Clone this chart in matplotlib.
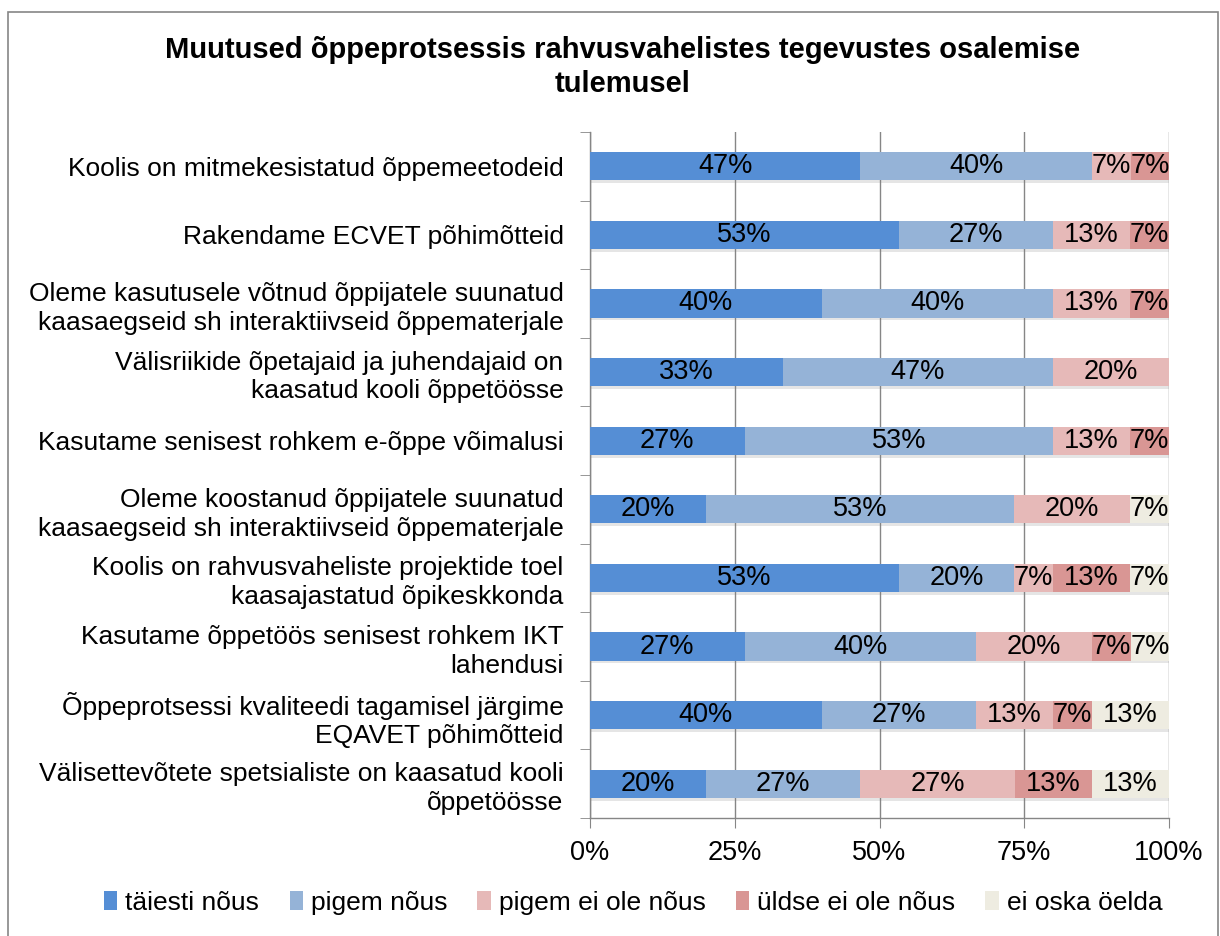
import matplotlib.pyplot as plt
import matplotlib.patches as mpatches
import matplotlib.patheffects as pe
import numpy as np

plt.rcParams['font.family'] = ['Liberation Sans', 'DejaVu Sans']

categories = [
    "Koolis on mitmekesistatud õppemeetodeid",
    "Rakendame ECVET põhimõtteid",
    "Oleme kasutusele võtnud õppijatele suunatud\nkaasaegseid sh interaktiivseid õppematerjale",
    "Välisriikide õpetajaid ja juhendajaid on\nkaasatud kooli õppetöösse",
    "Kasutame senisest rohkem e-õppe võimalusi",
    "Oleme koostanud õppijatele suunatud\nkaasaegseid sh interaktiivseid õppematerjale",
    "Koolis on rahvusvaheliste projektide toel\nkaasajastatud õpikeskkonda",
    "Kasutame õppetöös senisest rohkem IKT\nlahendusi",
    "Õppeprotsessi kvaliteedi tagamisel järgime\nEQAVET põhimõtteid",
    "Välisettevõtete spetsialiste on kaasatud kooli\nõppetöösse",
]

series_names = ["täiesti nõus", "pigem nõus", "pigem ei ole nõus",
                "üldse ei ole nõus", "ei oska öelda"]

taiesti = [46.7, 53.3, 40.0, 33.3, 26.7, 20.0, 53.3, 26.7, 40.0, 20.0]
pigem = [40.0, 26.7, 40.0, 46.7, 53.3, 53.3, 20.0, 40.0, 26.7, 26.7]
pigem_ei = [6.7, 13.3, 13.3, 20.0, 13.3, 20.0, 6.7, 20.0, 13.3, 26.7]
uldse_ei = [6.6, 6.7, 6.7, 0.0, 6.7, 0.0, 13.3, 6.7, 6.7, 13.3]
ei_oska = [0.0, 0.0, 0.0, 0.0, 0.0, 6.7, 6.7, 6.6, 13.3, 13.3]

colors = ['#558ED5', '#95B3D7', '#E6B9B8', '#D99694', '#EEECE1']

fig = plt.figure(figsize=(12.2, 9.36), dpi=100)
ax = fig.add_axes([590 / 1220, 1 - 818 / 936, 579 / 1220, 686 / 936])

# chart border
fig.patches.append(mpatches.Rectangle((8 / 1220, -0.01), 1210 / 1220, 1 - 12 / 936 + 0.01,
                                      transform=fig.transFigure, fill=False,
                                      edgecolor='#868686', linewidth=1.2))

shadow = [pe.SimplePatchShadow(offset=(1, -2), shadow_rgbFace='#808080', alpha=0.2),
          pe.Normal()]

y = np.arange(len(categories))
left = np.zeros(len(categories))
for name, vals, col in zip(series_names,
                           [taiesti, pigem, pigem_ei, uldse_ei, ei_oska], colors):
    vals = np.array(vals)
    bars = ax.barh(y, vals, left=left, height=0.41, color=col, label=name, zorder=3)
    for b in bars:
        b.set_path_effects(shadow)
    for yi, l, v in zip(y, left, vals):
        if v > 0:
            ax.text(l + v / 2, yi, f"{v:.0f}%", ha='center', va='center',
                    fontsize=19.5, color='black', zorder=4)
    left += vals

ax.set_xlim(0, 100)
ax.set_ylim(len(categories) - 0.5, -0.5)
ax.set_xticks([0, 25, 50, 75, 100])
ax.set_xticklabels(['0%', '25%', '50%', '75%', '100%'], fontsize=19.5)
ax.set_yticks(y)
ax.set_yticklabels(categories, fontsize=19, linespacing=1.25)
ax.set_yticks(np.arange(-0.5, len(categories), 1), minor=True)
ax.tick_params(axis='y', which='major', length=0, pad=19)
ax.tick_params(axis='y', which='minor', length=7, color='#868686', direction='out')
ax.tick_params(axis='x', length=7, color='#868686', direction='out', pad=9)

ax.grid(axis='x', color='#868686', linewidth=1, zorder=0)
ax.set_axisbelow(True)
for s in ['top', 'right']:
    ax.spines[s].set_visible(False)
for s in ['left', 'bottom']:
    ax.spines[s].set_color('#868686')
    ax.spines[s].set_linewidth(1)

fig.text(0.51, 1 - 67 / 936, "Muutused õppeprotsessis rahvusvahelistes tegevustes osalemise\ntulemusel",
         ha='center', va='center', fontsize=21, fontweight='bold', linespacing=1.25)

leg = fig.legend(loc='center', bbox_to_anchor=(0.519, 1 - 903 / 936), ncol=5, frameon=False,
                 fontsize=19, handlelength=0.5, handleheight=0.75, handletextpad=0.3,
                 columnspacing=1.15)
for h in leg.legend_handles:
    h.set_path_effects([])

fig.savefig("out.png", dpi=100)
